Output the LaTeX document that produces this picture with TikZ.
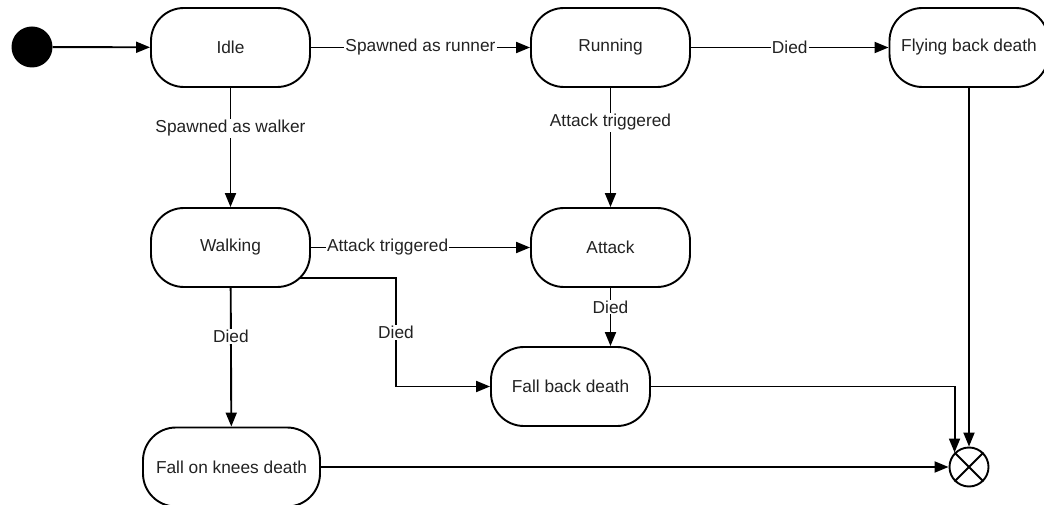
\documentclass[tikz,border=0pt]{standalone}
\usepackage{fontspec}
\setmainfont{Liberation Sans}
\usetikzlibrary{arrows.meta,calc}
\pgfdeclarelayer{background}
\pgfsetlayers{background,main}
\definecolor{txt}{HTML}{222222}
\begin{document}
\begin{tikzpicture}[x=1pt,y=-1pt,
  state/.style={draw, line width=1.9pt, rounded corners=33pt, fill=white,
    minimum width=159pt, minimum height=79pt, inner sep=0pt,
    font=\fontsize{17.3}{20}\selectfont, text=txt},
  arr/.style={line width=1.9pt, -{Triangle[length=14pt,width=11pt]}},
  lbl/.style={fill=white, inner sep=1pt, font=\fontsize{17.3}{20}\selectfont, text=txt}]
\useasboundingbox (0,0) rectangle (1044,505);
\node[circle, fill=black, minimum size=41pt, inner sep=0pt] (start) at (32,47) {};
\node[state] (idle) at (230.5,47.5) {Idle};
\node[state] (running) at (610.5,47.5) {Running};
\node[state] (flying) at (969,47.5) {Flying back death};
\node[state] (walking) at (230.5,247.5) {Walking};
\node[state] (attack) at (610.5,247.5) {Attack};
\node[state] (fallback) at (570.5,386.5) {Fall back death};
\node[state, minimum width=177pt] (knees) at (231.5,467) {Fall on knees death};
\node[circle, draw, line width=1.9pt, minimum size=39pt, inner sep=0pt, fill=white] (endc) at (969,467) {};
\draw[line width=1.9pt] (endc.north west) -- (endc.south east) (endc.north east) -- (endc.south west);
\coordinate (bend) at (396,278);
\begin{pgfonlayer}{background}
\draw[arr] (start) -- (idle);
\draw[arr] (idle) -- node[lbl]{Spawned as runner} (running);
\draw[arr] (running) -- node[lbl]{Died} (flying);
\draw[arr] (idle) -- node[lbl, pos=0.34]{Spawned as walker} (walking);
\draw[arr] (running) -- node[lbl, pos=0.29]{Attack triggered} (attack);
\draw[arr] (walking) -- node[lbl, pos=0.35]{Attack triggered} (attack);
\draw[arr] (attack.south) -- node[lbl, pos=0.33]{Died} (attack.south |- fallback.north);
\draw[arr] (walking) -- node[lbl, pos=0.35]{Died} (knees);
\draw[arr] (walking.center |- bend) -- (bend) |- node[lbl, pos=0.25]{Died} (fallback.west);
\draw[arr] (fallback.east) -| (endc.north west);
\draw[arr] (flying) -- (endc);
\draw[arr] (knees) -- (endc);
\end{pgfonlayer}
\end{tikzpicture}
\end{document}
